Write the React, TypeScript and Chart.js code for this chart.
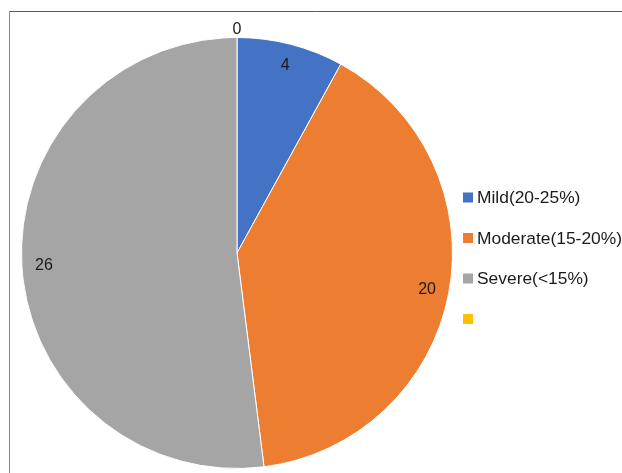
import React, { useEffect, useRef } from "react";
import { Chart, registerables } from "chart.js";

Chart.register(...registerables);

const categories = ["Mild(20-25%)", "Moderate(15-20%)", "Severe(<15%)", ""];
const values = [4, 20, 26, 0];
const colors = ["#4472C4", "#ED7D31", "#A5A5A5", "#FFC000"];

const framePlugin = {
  id: "frame",
  beforeDraw(chart: any) {
    const ctx = chart.ctx;
    ctx.save();
    ctx.lineWidth = 1;
    ctx.strokeStyle = "#5a5a5a";
    ctx.beginPath();
    ctx.moveTo(9.5, 11.5);
    ctx.lineTo(chart.width, 11.5);
    ctx.stroke();
    ctx.strokeStyle = "#888888";
    ctx.beginPath();
    ctx.moveTo(9.5, 11.5);
    ctx.lineTo(9.5, chart.height);
    ctx.stroke();
    ctx.restore();
  },
};

const labelPlugin = {
  id: "sliceLabels",
  afterDatasetsDraw(chart: any) {
    const ctx = chart.ctx;
    const meta = chart.getDatasetMeta(0);
    const data = chart.data.datasets[0].data as number[];
    ctx.save();
    ctx.font = "16px 'Liberation Sans', Arial, sans-serif";
    ctx.fillStyle = "#1a1a1a";
    ctx.textAlign = "center";
    ctx.textBaseline = "middle";
    meta.data.forEach((arc: any, i: number) => {
      const { x, y, startAngle, endAngle, outerRadius } = arc.getProps(
        ["x", "y", "startAngle", "endAngle", "outerRadius"],
        true
      );
      const mid = (startAngle + endAngle) / 2;
      const r = data[i] === 0 ? outerRadius + 8 : outerRadius - 22;
      ctx.fillText(String(data[i]), x + Math.cos(mid) * r, y + Math.sin(mid) * r);
    });
    ctx.restore();
  },
};

const legendPlugin = {
  id: "customLegend",
  afterDraw(chart: any) {
    const ctx = chart.ctx;
    const labels = chart.data.labels as string[];
    const bg = chart.data.datasets[0].backgroundColor as string[];
    ctx.save();
    ctx.font = "17.4px 'Liberation Sans', Arial, sans-serif";
    ctx.textAlign = "left";
    ctx.textBaseline = "middle";
    const x0 = 463;
    const y0 = 197.5;
    const step = 40.5;
    labels.forEach((lab, i) => {
      const cy = y0 + i * step;
      ctx.fillStyle = bg[i];
      ctx.fillRect(x0, cy - 5, 10, 10);
      ctx.fillStyle = "#1a1a1a";
      ctx.fillText(lab, x0 + 14, cy + 1);
    });
    ctx.restore();
  },
};

export default function App() {
  const ref = useRef<HTMLCanvasElement | null>(null);
  useEffect(() => {
    if (!ref.current) return;
    const chart = new Chart(ref.current, {
      type: "pie",
      data: {
        labels: categories,
        datasets: [
          {
            data: values,
            backgroundColor: colors,
            borderColor: "#ffffff",
            borderWidth: 1,
          },
        ],
      },
      options: {
        responsive: false,
        animation: false,
        layout: { padding: { left: 21, top: 37, right: 169, bottom: 4 } },
        plugins: {
          legend: { display: false },
          tooltip: { enabled: false },
        },
      },
      plugins: [framePlugin, labelPlugin, legendPlugin],
    });
    return () => chart.destroy();
  }, []);
  return (
    <div style={{ position: "absolute", left: 0, top: 0, width: 622, height: 473, background: "#fff" }}>
      <canvas ref={ref} width={622} height={473} />
    </div>
  );
}
